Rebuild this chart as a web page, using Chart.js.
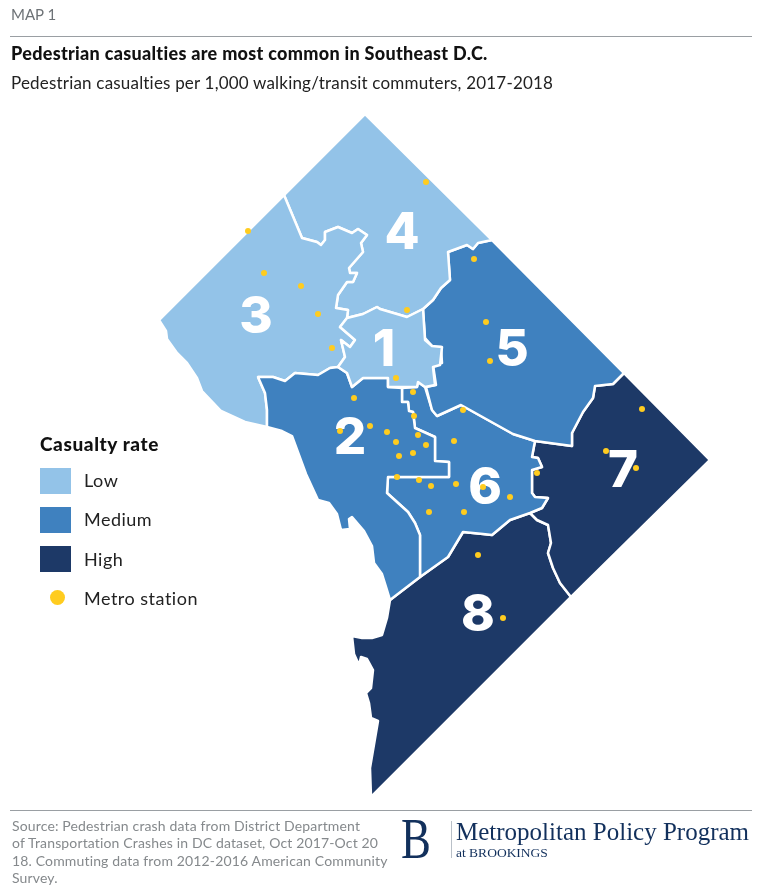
<!DOCTYPE html>
<html>
<head>
<meta charset="utf-8">
<script src="https://cdn.jsdelivr.net/npm/chart.js@4"></script>
<style>
    html, body { margin: 0; padding: 0; background: #fff; }
    body { width: 768px; height: 894px; position: relative; overflow: hidden; font-family: Lato, sans-serif; color: #111; }
    #map { position: absolute; left: 0; top: 0; width: 768px; height: 894px; }
    .txt { position: absolute; white-space: nowrap; }
    .rule { position: absolute; background: #9a9fa3; height: 1px; left: 10px; width: 742px; }
    .swatch { position: absolute; left: 40px; width: 31px; height: 26px; }
</style>
</head>
<body>
<canvas id="map" width="768" height="894"></canvas>

<div class="txt" style="left:11px;top:5px;font-size:15px;color:#6d7276">MAP 1</div>
<div class="rule" style="top:36px"></div>
<div class="txt" style="left:11px;top:42px;font-size:18px;font-weight:900;letter-spacing:.3px">Pedestrian casualties are most common in Southeast D.C.</div>
<div class="txt" style="left:11px;top:72px;font-size:17px;letter-spacing:.19px;color:#222">Pedestrian casualties per 1,000 walking/transit commuters, 2017-2018</div>

<div class="txt" style="left:40px;top:432px;font-size:19px;font-weight:900;letter-spacing:.6px">Casualty rate</div>
<div class="swatch" style="top:468px;background:#93c3e8"></div>
<div class="txt" style="left:84px;top:469px;font-size:18px;letter-spacing:.5px;color:#222">Low</div>
<div class="swatch" style="top:507px;background:#3f81bf"></div>
<div class="txt" style="left:84px;top:508px;font-size:18px;letter-spacing:.5px;color:#222">Medium</div>
<div class="swatch" style="top:546px;background:#1d3967"></div>
<div class="txt" style="left:84px;top:548px;font-size:18px;letter-spacing:.5px;color:#222">High</div>
<div style="position:absolute;left:50px;top:590px;width:15px;height:15px;border-radius:50%;background:#ffcc1f"></div>
<div class="txt" style="left:84px;top:587px;font-size:18px;letter-spacing:.5px;color:#222">Metro station</div>

<div class="rule" style="top:810px"></div>
<div class="txt" style="left:12px;top:817px;font-size:14px;line-height:17.3px;color:#85898c;letter-spacing:.15px">Source: Pedestrian crash data from District Department<br>of Transportation Crashes in DC dataset, Oct 2017-Oct 20<br>18. Commuting data from 2012-2016 American Community<br>Survey.</div>
<div class="txt" style="left:401px;top:807px;font-family:'Liberation Serif',serif;font-size:56px;line-height:64px;color:#12305c;transform:scaleX(.8);transform-origin:left">B</div>
<div style="position:absolute;left:451px;top:821px;width:1px;height:37px;background:#b9c0c8"></div>
<div class="txt" style="left:456px;top:816px;font-family:'Liberation Serif',serif;font-size:25px;line-height:32px;color:#12305c">Metropolitan Policy Program</div>
<div class="txt" style="left:456px;top:844px;font-family:'Liberation Serif',serif;font-size:13.5px;line-height:18px;color:#12305c">at BROOKINGS</div>

<script>
// ward outlines (x, y in map units)
const ward1 = [[347,318],[363,314],[377,307],[380,309],[407,317],[423,309],[425,340],[432,346],[442,347],[440,365],[433,367],[435,385],[425,387],[418,382],[417,387],[388,387],[388,378],[363,378],[352,387],[347,373],[338,367],[345,357],[341,340],[350,347],[355,340],[340,327],[347,318]];
const ward2 = [[258,377],[273,377],[285,381],[295,373],[318,375],[330,368],[338,367],[347,373],[352,387],[363,378],[388,378],[388,387],[402,388],[402,402],[408,402],[409,411],[413,412],[415,428],[435,437],[435,461],[449,462],[449,477],[388,477],[387,493],[408,512],[415,523],[420,535],[420,577],[390,600],[387,590],[382,574],[374,563],[372,546],[364,531],[352,517],[349,519],[350,529],[341,530],[337,514],[329,503],[318,500],[306,474],[292,436],[282,431],[267,427],[267,410],[265,393],[258,377]];
const ward3 = [[284,195],[159,320],[166,331],[167,339],[177,353],[187,363],[197,378],[202,391],[221,411],[245,422],[267,427],[267,410],[265,393],[258,377],[273,377],[285,381],[295,373],[318,375],[330,368],[338,367],[345,357],[341,340],[350,347],[355,340],[340,327],[347,318],[348,310],[336,308],[338,295],[347,282],[353,282],[357,273],[350,273],[349,268],[363,252],[361,243],[367,235],[358,229],[352,233],[338,227],[325,232],[325,240],[321,245],[317,242],[302,238],[284,195]];
const ward4 = [[365,114],[492,240],[478,243],[473,249],[467,245],[448,252],[450,280],[441,288],[433,300],[423,309],[407,317],[380,309],[377,307],[363,314],[347,318],[348,310],[336,308],[338,295],[347,282],[353,282],[357,273],[350,273],[349,268],[363,252],[361,243],[367,235],[358,229],[352,233],[338,227],[325,232],[325,240],[321,245],[317,242],[302,238],[284,195],[365,114]];
const ward5 = [[492,240],[624,373],[613,384],[595,386],[593,398],[583,412],[572,433],[572,446],[535,441],[513,434],[461,405],[437,416],[432,410],[426,387],[436,385],[433,365],[442,363],[441,347],[433,347],[425,338],[423,309],[433,300],[441,288],[450,280],[448,252],[467,245],[473,249],[478,243],[492,240]];
const ward6 = [[402,388],[417,387],[418,382],[425,387],[432,410],[437,416],[461,405],[513,434],[535,441],[532,457],[538,458],[542,467],[532,470],[532,493],[535,497],[548,498],[542,508],[530,513],[510,520],[492,535],[483,534],[463,532],[457,542],[448,557],[420,577],[420,535],[415,523],[408,512],[387,493],[388,477],[449,477],[449,462],[435,461],[435,437],[415,428],[413,412],[409,411],[408,402],[402,402],[402,388]];
const ward7 = [[624,373],[710,460],[571,597],[560,583],[553,568],[548,553],[551,543],[548,525],[537,520],[530,513],[542,508],[548,498],[535,497],[532,493],[532,470],[542,467],[538,458],[532,457],[535,441],[572,446],[572,433],[583,412],[593,398],[595,386],[613,384],[624,373]];
const ward8 = [[390,600],[420,577],[448,557],[457,542],[463,532],[483,534],[492,535],[510,520],[530,513],[537,520],[548,525],[551,543],[548,553],[553,568],[560,583],[571,597],[371,797],[370,768],[378,721],[371,718],[369,703],[366,693],[371,688],[373,670],[367,659],[361,657],[359,665],[354,654],[352,636],[362,638],[372,638],[382,635],[387,618],[390,600]];

// casualty rate class for wards 1 to 8
const wardRates = ['Low', 'Medium', 'Low', 'Low', 'Medium', 'Medium', 'High', 'High'];
const wardOutlines = [ward1, ward2, ward3, ward4, ward5, ward6, ward7, ward8];
const wardNames = ['1', '2', '3', '4', '5', '6', '7', '8'];
const wardLabelX = [384, 350, 256, 402, 512, 485, 623, 478];
const wardLabelY = [349, 437, 316, 232, 349, 487, 470, 614];

const stationX = [248,264,301,318,332,407,426,396,413,354,474,486,490,463,454,426,642,606,636,537,483,510,456,431,429,464,340,370,387,396,399,413,418,414,397,419,478,503];
const stationY = [231,273,286,314,348,310,182,378,392,398,259,322,361,410,441,445,409,451,468,473,487,497,484,486,512,512,431,426,432,442,456,453,435,416,477,480,555,618];

const rateColors = {Low: '#93c3e8', Medium: '#3f81bf', High: '#1d3967'};

function toPoints(outline) {
    return outline.map(p => ({x: p[0], y: p[1]}));
}

// puts the ward numbers under the stations, the stations dataset is drawn last
const wardNumbers = {
    id: 'wardNumbers',
    beforeDatasetDraw(chart, args) {
        if (args.index !== 0) return;
        const ctx = chart.ctx;
        ctx.save();
        ctx.font = '800 51px Inter, sans-serif';
        ctx.fillStyle = '#fff';
        ctx.textAlign = 'center';
        ctx.textBaseline = 'middle';
        wardNames.forEach((name, i) => {
            ctx.fillText(name, chart.scales.x.getPixelForValue(wardLabelX[i]), chart.scales.y.getPixelForValue(wardLabelY[i]) + 2);
        });
        ctx.restore();
    }
};

const wardSets = wardOutlines.map((outline, i) => {
    return {
        label: 'Ward ' + wardNames[i],
        data: toPoints(outline),
        showLine: true,
        fill: 'shape',
        tension: 0,
        backgroundColor: rateColors[wardRates[i]],
        borderColor: '#fff',
        borderWidth: 2.5,
        borderJoinStyle: 'round',
        pointRadius: 0
    };
});

new Chart(document.getElementById('map').getContext('2d'), {
    type: 'scatter',
    data: {
        datasets: [{
            label: 'Metro station',
            data: stationX.map((e, i) => ({x: e, y: stationY[i]})),
            backgroundColor: '#ffcc1f',
            borderWidth: 0,
            pointRadius: 3
        }].concat(wardSets)
    },
    options: {
        responsive: false,
        animation: false,
        layout: {padding: 0, autoPadding: false},
        plugins: {legend: {display: false}, tooltip: {enabled: false}},
        scales: {
            x: {type: 'linear', min: 0, max: 768, display: false},
            y: {type: 'linear', min: 0, max: 894, reverse: true, display: false}
        }
    },
    plugins: [wardNumbers]
});
</script>
</body>
</html>
